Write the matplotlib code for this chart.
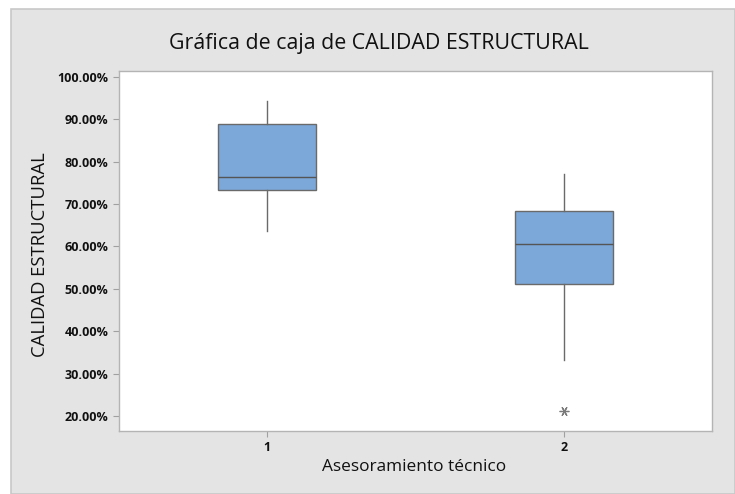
import matplotlib
matplotlib.use("Agg")
import matplotlib.pyplot as plt
from matplotlib.patches import Rectangle
from matplotlib.ticker import FuncFormatter

plt.rcParams['font.family'] = ['Open Sans', 'DejaVu Sans']

# Five-number summaries (percent) for each technical-advice group
groups = ["1", "2"]
whisker_low = [63.7, 33.2]
q1 = [73.2, 51.1]
median = [76.3, 60.5]
q3 = [88.8, 68.4]
whisker_high = [94.2, 77.0]
outliers = [[], [21.2]]

y_ticks = [20, 30, 40, 50, 60, 70, 80, 90, 100]

stats = []
for i, g in enumerate(groups):
    stats.append(dict(label=g, whislo=whisker_low[i], q1=q1[i], med=median[i],
                      q3=q3[i], whishi=whisker_high[i], fliers=outliers[i]))

fig = plt.figure(figsize=(7.35, 4.94), dpi=100)
fig.patch.set_facecolor("white")
# grey panel behind the plot
fig.patches.append(Rectangle((11 / 735, 0), 1 - 11 / 735, 1 - 9 / 494,
                             transform=fig.transFigure, facecolor="#e4e4e4",
                             edgecolor="#c8c8c8", linewidth=1.2, zorder=-10))

ax = fig.add_axes([118.7 / 735, 1 - 431 / 494, (712.3 - 118.7) / 735, (431 - 71) / 494])
ax.set_facecolor("white")

edge = "#6a6a6a"
ax.bxp(stats, positions=[1, 2], widths=0.33, patch_artist=True, showcaps=False,
       boxprops=dict(facecolor="#7ba7d9", edgecolor=edge, linewidth=1.0),
       medianprops=dict(color="#555555", linewidth=1.0),
       whiskerprops=dict(color=edge, linewidth=1.0),
       flierprops=dict(marker=(6, 2, 90), markersize=7, markeredgecolor="#7a7a7a",
                       markerfacecolor="none", markeredgewidth=0.9, linestyle="none"))

ax.set_xlim(0.5, 2.5)
ax.set_ylim(16.46, 101.35)
ax.set_yticks(y_ticks)
ax.yaxis.set_major_formatter(FuncFormatter(lambda v, p: f"{v:.2f}%"))
ax.set_xticks([1, 2])
ax.set_xticklabels(groups)

for s in ax.spines.values():
    s.set_color("#b4b4b4")
    s.set_linewidth(1.0)

ax.tick_params(axis="both", colors="#a0a0a0", length=4, width=0.8,
               labelcolor="#111111", labelsize=9)
for lbl in ax.get_yticklabels() + ax.get_xticklabels():
    lbl.set_fontweight("bold")

fig.text(379 / 735, 1 - 44 / 494, "Gráfica de caja de CALIDAD ESTRUCTURAL",
         ha="center", va="center", fontsize=15.4, color="#111111")
fig.text(414 / 735, 1 - 467 / 494, "Asesoramiento técnico",
         ha="center", va="center", fontsize=12.4, color="#111111")
fig.text(40 / 735, 1 - 255 / 494, "CALIDAD ESTRUCTURAL", rotation=90,
         ha="center", va="center", fontsize=13.3, color="#111111")

fig.savefig("out.png", dpi=100)
